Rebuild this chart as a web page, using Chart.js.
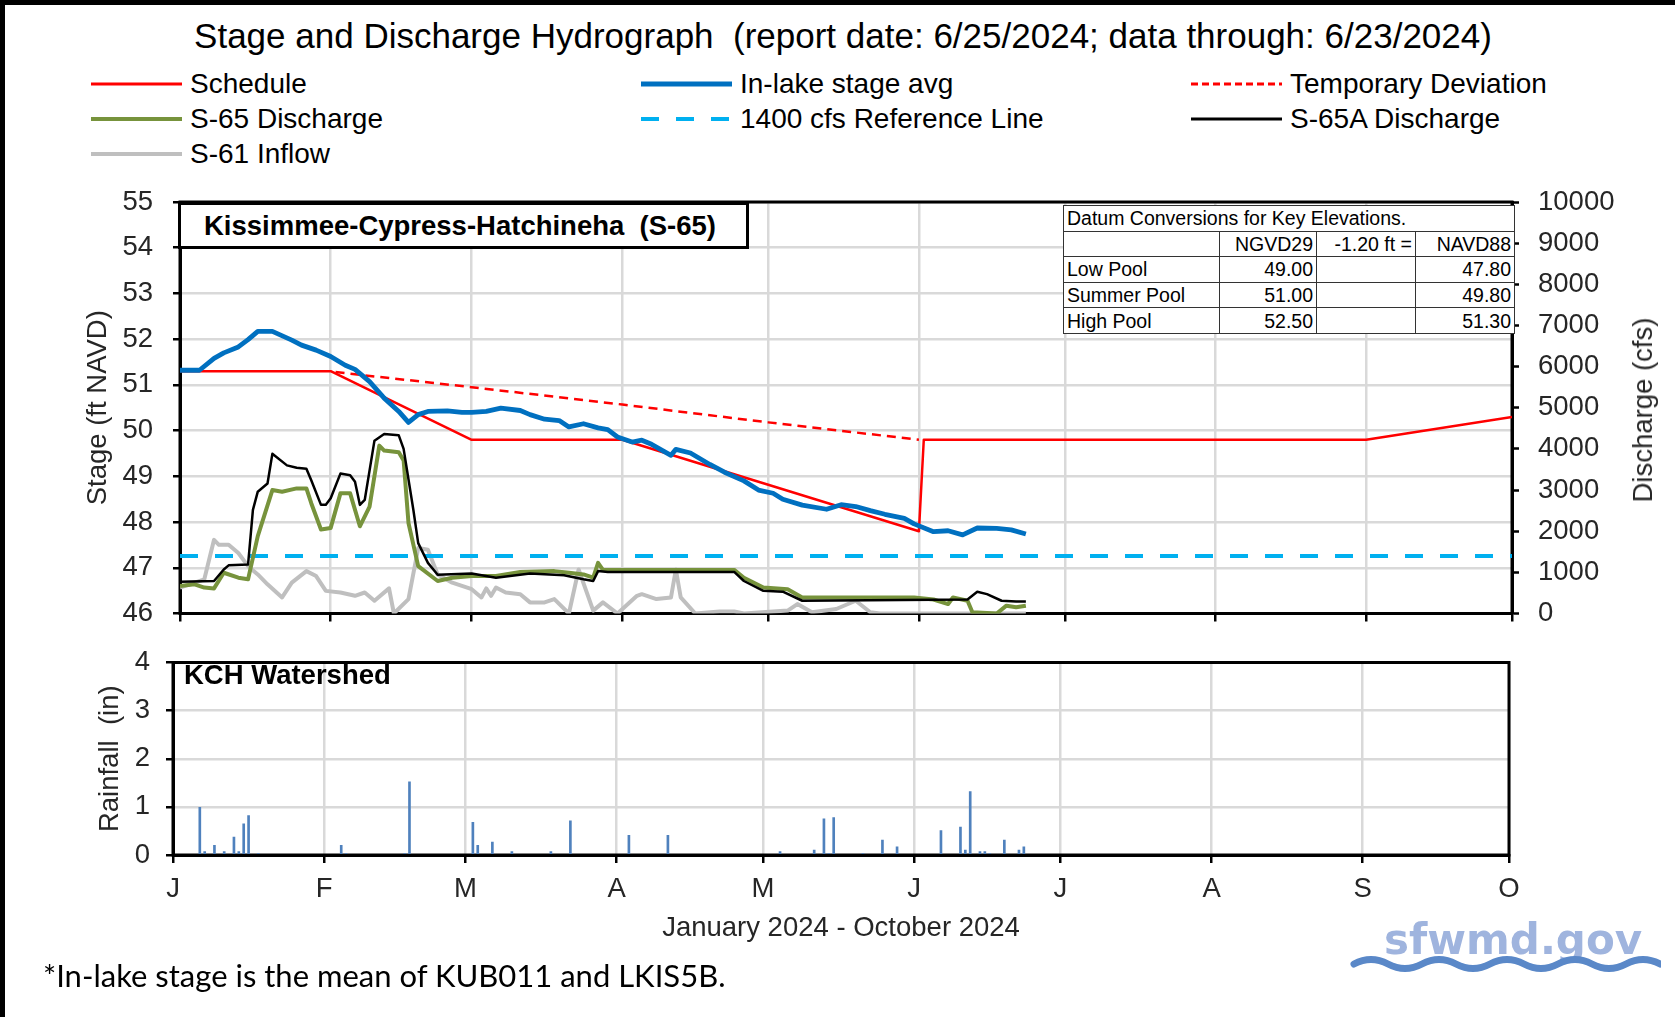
<!DOCTYPE html>
<html>
<head>
<meta charset="utf-8">
<title>Stage and Discharge Hydrograph</title>
<script src="https://cdn.jsdelivr.net/npm/chart.js@4.4.1/dist/chart.umd.min.js"></script>
<style>
  body { margin: 0; background: #fff; }
  #page { position: relative; width: 1675px; height: 1017px; overflow: hidden; background: #fff;
          font-family: "Liberation Sans", Arial, sans-serif; color: #000; }
  #page > * { position: absolute; }
  .edge { background: #000; }
  #title { left: 0; width: 1686px; top: 16px; line-height: 40px; font-size: 35px; text-align: center; white-space: pre; }
  #legend { left: 91px; top: 67px; display: grid; grid-template-columns: 550px 550px 420px; grid-auto-rows: 34.7px; font-size: 28px; }
  .item { display: flex; align-items: center; white-space: pre; }
  .item svg { margin-right: 8px; }
  canvas { left: 0; }
  #stageChart { top: 0; }
  #rainChart { top: 630px; }
  #site { left: 178px; top: 202px; width: 571px; height: 47px; box-sizing: border-box; border: 3px solid #000;
          background: #fff; font-weight: bold; font-size: 27.5px; line-height: 41px; padding-left: 23px; white-space: pre; }
  #datum { left: 1063px; top: 205px; width: 451px; height: 129px; border-collapse: collapse; background: #fff;
           font-size: 19.5px; table-layout: fixed; }
  #datum td { border: 1.5px solid #333; padding: 0 3px; height: 24px; line-height: 22px; text-align: right; white-space: nowrap; overflow: hidden; }
  #datum td.l { text-align: left; }
  #qTitle { left: 1643px; top: 410px; font-size: 27.5px; transform: translate(-50%, -50%) rotate(-90deg); white-space: pre; color: #262626; }
  #rainTag { left: 184px; top: 658px; font-weight: bold; font-size: 27.5px; line-height: 34px; }
  #note { left: 43px; top: 956px; font-family: Lato, "Liberation Sans", sans-serif; font-size: 31px; line-height: 38px; white-space: pre; }
  #logo { left: 1384px; top: 918px; font-family: "DejaVu Sans", sans-serif; font-weight: bold; font-size: 42px; line-height: 44px; color: #9fb4de; }
  #wave { left: 1349px; top: 952px; }
</style>
</head>
<body>
<div id="page">
  <div class="edge" style="left:0;top:0;width:1675px;height:5px"></div>
  <div class="edge" style="left:0;top:0;width:5px;height:1017px"></div>
  <div id="title">Stage and Discharge Hydrograph  (report date: 6/25/2024; data through: 6/23/2024)</div>
  <div id="legend"></div>
  <canvas id="stageChart" width="1675" height="650"></canvas>
  <canvas id="rainChart" width="1675" height="330"></canvas>
  <div id="site">Kissimmee-Cypress-Hatchineha  (S-65)</div>
  <table id="datum">
    <colgroup><col style="width:156px"><col style="width:97px"><col style="width:99px"><col style="width:99px"></colgroup>
    <tbody id="datumBody"></tbody>
  </table>
  <div id="qTitle">Discharge (cfs)</div>
  <div id="rainTag">KCH Watershed</div>
  <div id="note">*In-lake stage is the mean of KUB011 and LKIS5B.</div>
  <div id="logo">sfwmd.gov</div>
  <svg id="wave" width="312" height="24"><path d="M5 12 q17 -9 34 0 t34 0 t34 0 t34 0 t34 0 t34 0 t34 0 t34 0 t34 0" fill="none" stroke="#5a88c8" stroke-width="7" stroke-linecap="round"/></svg>
</div>

<script>
// x values are day of year 2024 (Jan 1 = 0)
const monthStart = [0, 31, 60, 91, 121, 152, 182, 213, 244, 274];
const monthLetter = ["J", "F", "M", "A", "M", "J", "J", "A", "S", "O"];

// in-lake stage avg (ft NAVD)
const stageDay = [0,4,7,9,12,14,16,19,23,25,28,31,34,36,39,42,45,47,49,51,55,58,60,63,66,70,72,75,78,80,83,86,88,90,93,95,97,101,102,105,109,112,116,119,122,124,128,133,136,139,142,145,149,151,155,158,161,164,168,171,174];
const stageFt = [51.32,51.32,51.58,51.70,51.83,51.99,52.17,52.17,51.98,51.87,51.76,51.62,51.43,51.34,51.07,50.71,50.42,50.18,50.35,50.42,50.43,50.40,50.40,50.42,50.49,50.44,50.35,50.25,50.22,50.08,50.15,50.06,50.02,49.86,49.75,49.79,49.70,49.46,49.59,49.51,49.26,49.09,48.90,48.70,48.63,48.50,48.37,48.28,48.38,48.34,48.25,48.17,48.08,47.96,47.79,47.81,47.72,47.87,47.86,47.83,47.74];

// regulation schedule and temporary deviation
const scheduleDay = [0, 31, 60, 91, 152, 153, 244, 274];
const scheduleFt = [51.3, 51.3, 49.8, 49.8, 47.8, 49.8, 49.8, 50.3];
const deviationDay = [32, 60, 91, 121, 152];
const deviationFt = [51.28, 50.95, 50.57, 50.18, 49.8];

// discharges (cfs)
const s65aDay = [0,7,9,10,14,15,16,18,19,22,24,26,27,29,30,31,33,35,36,37,38,40,42,45,46,48,49,51,53,60,65,72,79,83,85,86,88,114,116,120,124,128,162,164,166,169,172,174];
const s65aCfs = [770,790,1070,1170,1190,2520,2960,3160,3880,3600,3540,3520,3240,2640,2640,2800,3400,3360,3200,2640,2760,4200,4360,4330,4000,2520,1710,1230,940,970,870,970,930,830,790,1030,1010,1010,790,550,530,310,340,530,470,310,290,290];
const s65Day = [0,3,5,7,9,12,14,16,19,21,24,26,27,29,31,33,35,37,39,41,42,45,46,47,49,53,56,60,65,70,77,80,83,85,86,87,114,116,120,125,128,151,155,158,159,162,163,168,170,172,174];
const s65Cfs = [670,710,630,610,990,870,830,1880,3000,2960,3040,3040,2680,2040,2080,2920,2920,2120,2600,4080,3960,3920,3720,2200,1150,790,870,910,910,1010,1030,990,950,870,1230,1060,1060,870,630,590,390,390,340,230,390,310,30,0,190,150,190];
const s61Day = [0,5,7,8,10,12,14,16,18,21,23,26,28,30,33,36,38,40,43,44,47,49,51,53,56,60,62,63,64,65,67,70,72,75,77,80,82,85,87,90,94,95,98,101,102,103,106,111,114,116,125,127,130,135,139,142,144,174];
const s61Cfs = [630,830,1790,1670,1670,1470,1150,950,710,390,750,1030,910,550,510,430,510,310,610,0,350,1590,1550,950,750,590,390,610,430,630,510,470,270,270,350,0,1070,70,270,0,430,470,350,390,1070,390,0,50,50,0,70,230,30,110,310,30,0,0];
const refCfs = 1400;

// daily rainfall, KCH watershed (in)
const rainDay = [5,6,8,10,12,13,14,15,17,34,35,47,48,61,62,65,69,77,81,93,101,124,131,133,134,135,141,145,148,157,161,162,163,165,166,167,170,173,174];
const rainIn = [0.99,0.07,0.2,0.07,0.37,0.07,0.65,0.82,0.03,0.2,0.03,0.03,1.52,0.68,0.2,0.27,0.07,0.07,0.71,0.41,0.41,0.07,0.1,0.75,0.03,0.78,0.03,0.31,0.17,0.51,0.58,0.1,1.32,0.07,0.07,0.03,0.31,0.1,0.17];

// datum conversion table
const datumHead = ["", "NGVD29", "-1.20 ft =", "NAVD88"];
const poolName = ["Low Pool", "Summer Pool", "High Pool"];
const poolNgvd = ["49.00", "51.00", "52.50"];
const poolNavd = ["47.80", "49.80", "51.30"];

const gridColor = "#d9d9d9";
Chart.defaults.font.family = '"Liberation Sans", Arial, sans-serif';
Chart.defaults.font.size = 27.5;
Chart.defaults.color = "#262626";

const pts = (xs, ys) => xs.map((x, i) => ({ x: x, y: ys[i] }));

// black box round the plot area
const frame = {
  id: "frame",
  beforeDatasetsDraw(chart) {
    const { ctx, chartArea: a } = chart;
    ctx.save();
    ctx.strokeStyle = "#000";
    ctx.lineWidth = 3;
    ctx.strokeRect(a.left, a.top, a.right - a.left, a.bottom - a.top);
    ctx.restore();
  },
};

const monthAxis = {
  type: "linear",
  min: 0,
  max: 274,
  offset: false,
  afterBuildTicks: (ax) => { ax.ticks = monthStart.map((v) => ({ value: v })); },
  grid: { color: gridColor, lineWidth: 2.5, offset: false, tickColor: "#000", tickLength: 8, tickWidth: 2.5 },
  border: { color: "#000", width: 3 },
};

// first dataset is drawn on top
let stageChart = new Chart(document.getElementById("stageChart"), {
  type: "line",
  data: {
    datasets: [
      { label: "In-lake stage avg", data: pts(stageDay, stageFt), borderColor: "#0070c0", borderWidth: 4.8, yAxisID: "y" },
      { label: "Schedule", data: pts(scheduleDay, scheduleFt), borderColor: "#ff0000", borderWidth: 2.5, yAxisID: "y" },
      { label: "Temporary Deviation", data: pts(deviationDay, deviationFt), borderColor: "#ff0000", borderWidth: 2.5, borderDash: [9, 6], yAxisID: "y" },
      { label: "S-65A Discharge", data: pts(s65aDay, s65aCfs), borderColor: "#000000", borderWidth: 2.5, yAxisID: "y2" },
      { label: "S-65 Discharge", data: pts(s65Day, s65Cfs), borderColor: "#77933c", borderWidth: 4, yAxisID: "y2" },
      { label: "1400 cfs Reference Line", data: pts([0, 274], [refCfs, refCfs]), borderColor: "#00b0f0", borderWidth: 4, borderDash: [18, 17], yAxisID: "y2" },
      { label: "S-61 Inflow", data: pts(s61Day, s61Cfs), borderColor: "#bfbfbf", borderWidth: 4, yAxisID: "y2" },
    ],
  },
  options: {
    responsive: false,
    animation: false,
    events: [],
    elements: { point: { radius: 0 }, line: { tension: 0, borderJoinStyle: "round" } },
    layout: { padding: { top: 202, left: 70, right: 0, bottom: 0 } },
    plugins: { legend: { display: false }, tooltip: { enabled: false } },
    scales: {
      x: Object.assign({}, monthAxis, {
        ticks: { display: false },
        afterFit: (ax) => { ax.height = 32; },
      }),
      y: {
        position: "left",
        min: 46,
        max: 55,
        ticks: { stepSize: 1, padding: 20 },
        grid: { color: gridColor, lineWidth: 2.5, tickColor: "#000", tickLength: 7, tickWidth: 2.5 },
        border: { color: "#000", width: 3 },
        title: { display: true, text: "Stage (ft NAVD)", padding: { top: 12 } },
        afterFit: (ax) => { ax.width = 110; },
      },
      y2: {
        position: "right",
        min: 0,
        max: 10000,
        ticks: { stepSize: 1000, padding: 19, callback: (v) => String(v) },
        grid: { drawOnChartArea: false, tickColor: "#000", tickLength: 7, tickWidth: 2.5 },
        border: { color: "#000", width: 3 },
        afterFit: (ax) => { ax.width = 163; },
      },
    },
  },
  plugins: [frame],
});

let rainChart = new Chart(document.getElementById("rainChart"), {
  type: "bar",
  data: {
    datasets: [
      {
        label: "Rainfall",
        // bars sit mid-day
        data: pts(rainDay.map((d) => d + 0.5), rainIn),
        backgroundColor: "#4f81bd",
        borderWidth: 0,
        barThickness: 2,
        grouped: false,
      },
    ],
  },
  options: {
    responsive: false,
    animation: false,
    events: [],
    layout: { padding: { top: 24, left: 80, right: 166, bottom: 0 } },
    plugins: { legend: { display: false }, tooltip: { enabled: false } },
    scales: {
      x: Object.assign({}, monthAxis, {
        ticks: { padding: 10, autoSkip: false, maxRotation: 0, color: "#262626", callback: (v, i) => monthLetter[i] },
        title: { display: true, text: "January 2024 - October 2024", padding: { bottom: 15 } },
        afterFit: (ax) => { ax.height = 105; },
      }),
      y: {
        min: 0,
        max: 4,
        ticks: { stepSize: 1, padding: 16 },
        grid: { color: gridColor, lineWidth: 2.5, tickColor: "#000", tickLength: 7, tickWidth: 2.5 },
        border: { color: "#000", width: 3 },
        title: { display: true, text: "Rainfall  (in)", padding: { top: 14 } },
        afterFit: (ax) => { ax.width = 93; },
      },
    },
  },
  plugins: [frame],
});

// legend, three columns, built from the line datasets
const legendOrder = ["Schedule", "In-lake stage avg", "Temporary Deviation", "S-65 Discharge", "1400 cfs Reference Line", "S-65A Discharge", "S-61 Inflow"];
const legendBox = document.getElementById("legend");
legendOrder.forEach((name) => {
  const ds = stageChart.data.datasets.find((d) => d.label === name);
  const dash = ds.borderDash ? (ds.borderDash[0] > 10 ? ds.borderDash : [7, 4]).join(" ") : "none";
  const item = document.createElement("div");
  item.className = "item";
  item.innerHTML =
    '<svg width="91" height="10"><line x1="0" y1="5" x2="91" y2="5" stroke="' + ds.borderColor +
    '" stroke-width="' + Math.max(ds.borderWidth, 3) + '" stroke-dasharray="' + dash + '"/></svg>' +
    "<span>" + name + "</span>";
  legendBox.appendChild(item);
});

// datum table
const datumBody = document.getElementById("datumBody");
let rows = '<tr><td class="l" colspan="4">Datum Conversions for Key Elevations.</td></tr>';
rows += "<tr>" + datumHead.map((h) => "<td>" + h + "</td>").join("") + "</tr>";
poolName.forEach((p, i) => {
  rows += '<tr><td class="l">' + p + "</td><td>" + poolNgvd[i] + "</td><td></td><td>" + poolNavd[i] + "</td></tr>";
});
datumBody.innerHTML = rows;
</script>
</body>
</html>
